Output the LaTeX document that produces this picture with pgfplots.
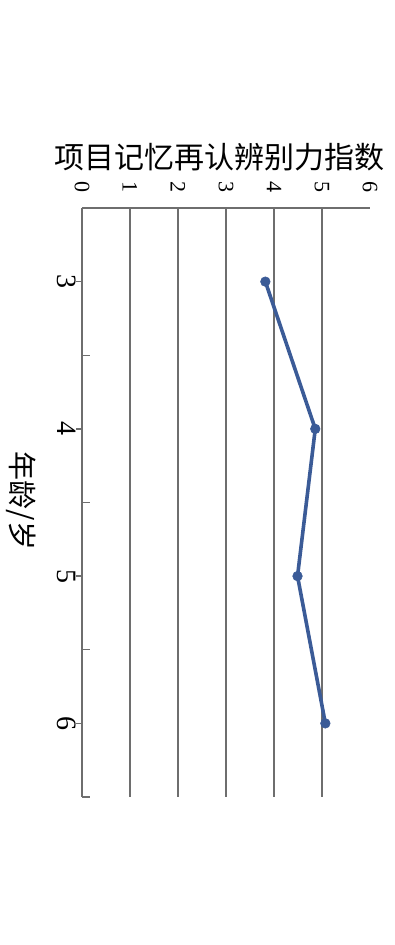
\documentclass[border=0pt]{standalone}
\usepackage{pgfplots}
\pgfplotsset{compat=1.18}
\usepackage{fontspec}
\setmainfont{Liberation Serif}
\newfontfamily\cjk{Noto Sans CJK SC}
\definecolor{lineblue}{HTML}{3B5B97}
\definecolor{gridgray}{HTML}{6E6E6E}
\begin{document}
\begin{tikzpicture}[x=1pt,y=1pt]
\useasboundingbox (0,0) rectangle (197.5,-472.5);
\begin{axis}[
  at={(41pt,-104pt)}, anchor=north west,
  scale only axis, width=144pt, height=294.5pt,
  xmin=0, xmax=6, ymin=2.5, ymax=6.5, y dir=reverse,
  axis x line*=top, axis y line*=left,
  axis line style={gridgray, line width=0.65pt, -},
  xtick={0,...,6},
  x tick style={draw=none},
  extra x ticks={1,2,3,4,5},
  extra x tick labels={},
  extra x tick style={grid=major, major grid style={gridgray, line width=0.65pt}, tick style={draw=none}},
  ytick={3,4,5,6},
  y tick style={gridgray, line width=0.65pt},
  tick align=outside, major tick length=3pt,
  extra y ticks={3.5,4.5,5.5,6.5},
  extra y tick labels={},
  extra y tick style={tick align=inside, major tick length=4pt},
  xticklabel shift=4.5pt,
  xticklabel style={rotate=-90, anchor=east, inner sep=0pt, font=\fontsize{11}{13}\selectfont, /pgf/number format/assume math mode=true},
  yticklabel style={rotate=-90, anchor=north, inner sep=0pt, font=\fontsize{14}{16}\selectfont, /pgf/number format/assume math mode=true},
  clip=false,
]
\addplot[lineblue, line width=1.8pt, mark=*, mark size=2.4pt, mark options={fill=lineblue, draw=lineblue, line width=0.3pt}] coordinates {(3.82,3) (4.86,4) (4.49,5) (5.07,6)};
\end{axis}
\node[font=\cjk\fontsize{15}{18}\selectfont] at (109.75,-78.5) {项目记忆再认辨别力指数};
\node[rotate=-90, font=\cjk\fontsize{14.5}{17}\selectfont] at (10.5,-250.5) {年龄/岁};
\end{tikzpicture}
\end{document}
